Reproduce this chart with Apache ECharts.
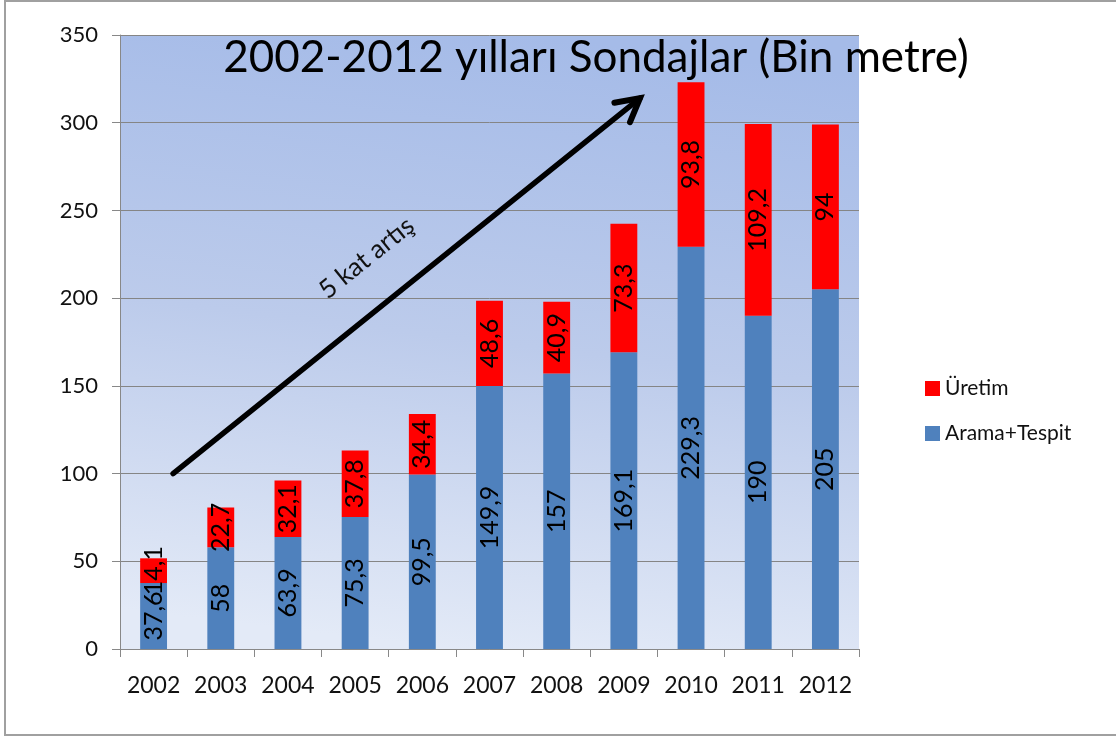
<!DOCTYPE html>
<html>
<head>
<meta charset="utf-8">
<script src="https://cdn.jsdelivr.net/npm/echarts@6/dist/echarts.min.js"></script>
<style>
  html, body { margin: 0; padding: 0; background: #fff; }
  #chart { width: 1116px; height: 737px; }
</style>
</head>
<body>
<div id="chart"></div>
<script>
// Drilling by year, thousand metres
const years = ['2002', '2003', '2004', '2005', '2006', '2007', '2008', '2009', '2010', '2011', '2012'];
const aramaTespit = [37.6, 58, 63.9, 75.3, 99.5, 149.9, 157, 169.1, 229.3, 190, 205];
const uretim = [14.1, 22.7, 32.1, 37.8, 34.4, 48.6, 40.9, 73.3, 93.8, 109.2, 94];
const yTicks = [0, 50, 100, 150, 200, 250, 300, 350];

// Trend arrow endpoints in data space: [category index, value]
const arrowStart = [0.29, 100];
const arrowEnd = [7.24, 314];

const FONT = 'Lato';
const fmt = v => String(v).replace('.', ',');

const chart = echarts.init(document.getElementById('chart'));

const labelStyle = {
  show: true,
  position: 'inside',
  rotate: 90,
  fontFamily: FONT,
  fontSize: 25,
  color: '#000',
  formatter: p => fmt(p.value)
};

chart.setOption({
  animation: false,
  backgroundColor: '#fff',
  title: {
    text: '2002-2012 yılları Sondajlar (Bin metre)',
    left: 591,
    top: 31,
    textAlign: 'center',
    textStyle: { fontFamily: FONT, fontSize: 44, fontWeight: 'normal', color: '#000' }
  },
  legend: {
    orient: 'vertical',
    left: 920,
    top: 373,
    itemWidth: 15,
    itemHeight: 15,
    itemGap: 24,
    icon: 'rect',
    data: ['Üretim', 'Arama+Tespit'],
    textStyle: { fontFamily: FONT, fontSize: 21, color: '#111' }
  },
  grid: {
    left: 120, right: 257, top: 35, bottom: 88,
    show: true,
    borderWidth: 0,
    backgroundColor: {
      type: 'linear', x: 0.45, y: 1, x2: 0.55, y2: 0,
      colorStops: [
        { offset: 0, color: '#e3eaf7' },
        { offset: 0.5, color: '#bccbeb' },
        { offset: 1, color: '#a5bbe8' }
      ]
    }
  },
  xAxis: {
    type: 'category',
    data: years,
    axisLine: { lineStyle: { color: '#888', width: 1 } },
    axisTick: { show: true, length: 8, lineStyle: { color: '#888' } },
    axisLabel: { interval: 0, fontFamily: FONT, fontSize: 23, color: '#111', margin: 25 }
  },
  yAxis: {
    type: 'value',
    min: yTicks[0],
    max: yTicks[yTicks.length - 1],
    interval: yTicks[1] - yTicks[0],
    axisLine: { show: true, lineStyle: { color: '#888' } },
    axisTick: { show: true, length: 8, lineStyle: { color: '#888' } },
    splitLine: { lineStyle: { color: '#858585', width: 1 } },
    axisLabel: { fontFamily: FONT, fontSize: 22, color: '#111', margin: 22 }
  },
  series: [
    {
      name: 'Arama+Tespit',
      type: 'bar',
      stack: 'total',
      barWidth: '40%',
      itemStyle: { color: '#4f81bd' },
      label: labelStyle,
      data: aramaTespit
    },
    {
      name: 'Üretim',
      type: 'bar',
      stack: 'total',
      barWidth: '40%',
      itemStyle: { color: '#ff0000' },
      label: labelStyle,
      data: uretim
    }
  ]
});

// Convert a [fractional category, value] pair to pixels
function toPx(pt) {
  const i0 = Math.floor(pt[0]);
  const a = chart.convertToPixel({ gridIndex: 0 }, [i0, pt[1]]);
  const b = chart.convertToPixel({ gridIndex: 0 }, [i0 + 1, pt[1]]);
  const f = pt[0] - i0;
  return [a[0] + (b[0] - a[0]) * f, a[1]];
}

const p0 = toPx(arrowStart);
const p1 = toPx(arrowEnd);
const ang = Math.atan2(p1[1] - p0[1], p1[0] - p0[0]);
const headLen = 26, headSpread = 0.5;
const h1 = [p1[0] - headLen * Math.cos(ang - headSpread), p1[1] - headLen * Math.sin(ang - headSpread)];
const h2 = [p1[0] - headLen * Math.cos(ang + headSpread), p1[1] - headLen * Math.sin(ang + headSpread)];
const mid = [(p0[0] + p1[0]) / 2 - 40, (p0[1] + p1[1]) / 2 - 28];

chart.setOption({
  graphic: [
    {
      type: 'rect',
      shape: { x: 5, y: 1, width: 1112, height: 734 },
      style: { fill: 'none', stroke: '#a0a0a0', lineWidth: 2 },
      z: 0, silent: true
    },
    {
      type: 'line',
      shape: { x1: p0[0], y1: p0[1], x2: p1[0], y2: p1[1] },
      style: { stroke: '#000', lineWidth: 5.5, lineCap: 'round' },
      z: 10
    },
    {
      type: 'polyline',
      shape: { points: [h1, p1, h2] },
      style: { stroke: '#000', fill: 'none', lineWidth: 6, lineJoin: 'miter', lineCap: 'round' },
      z: 10
    },
    {
      type: 'text',
      x: mid[0], y: mid[1],
      rotation: -ang,
      style: {
        text: '5 kat artış',
        fontFamily: FONT, fontSize: 26, fill: '#111',
        textAlign: 'center', textVerticalAlign: 'middle'
      },
      z: 10
    }
  ]
});
</script>
</body>
</html>
